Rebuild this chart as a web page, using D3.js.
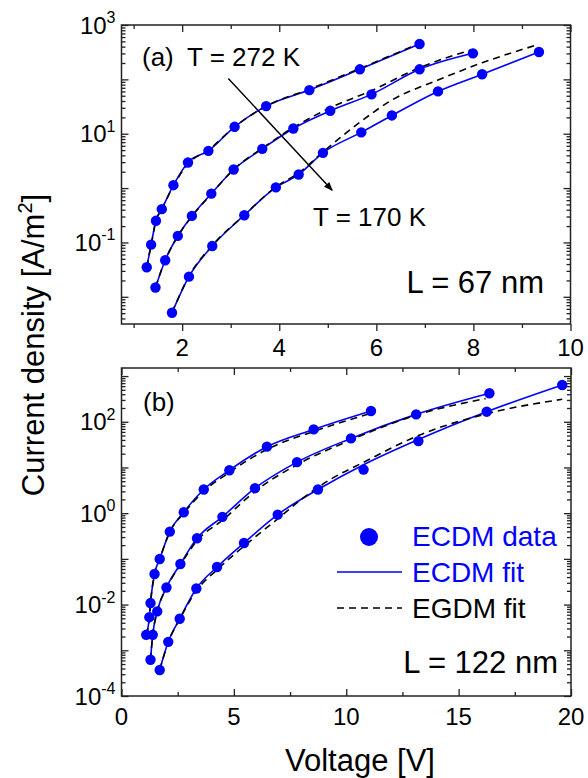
<!DOCTYPE html>
<html>
<head>
<meta charset="utf-8">
<title>ECDM / EGDM current density</title>
<script src="https://cdn.jsdelivr.net/npm/d3@7"></script>
<style>
    html, body { margin: 0; padding: 0; background: #fff; }
    svg { display: block; font-family: "Liberation Sans", Arial, sans-serif; }
    .frame { fill: none; stroke: #222; stroke-width: 1.5px; }
    .axis path { display: none; }
    .axis line { stroke: #222; stroke-width: 1.3px; }
    .ecdm { fill: none; stroke: #0000ff; stroke-width: 1.6px; }
    .egdm { fill: none; stroke: #000; stroke-width: 1.6px; stroke-dasharray: 7,5; }
    .dot { fill: #0000ff; }
</style>
</head>
<body>
<svg width="588" height="778"></svg>
<script>

// ---- panel (a) : L = 67 nm ----
var aHotV  = [1.27, 1.36, 1.46, 1.58, 1.82, 2.12, 2.54, 3.08, 3.73, 4.62, 5.66, 6.89];
var aHotJ  = [0.035, 0.091, 0.25, 0.41, 1.13, 2.96, 4.84, 13.4, 32.2, 63.5, 153, 447];
var aMidV  = [1.45, 1.65, 1.91, 2.20, 2.60, 3.06, 3.65, 4.29, 5.05, 5.90, 6.89, 7.99];
var aMidJ  = [0.0148, 0.047, 0.132, 0.308, 0.79, 2.2, 5.27, 12.5, 26.4, 52.9, 153, 301];
var aColdV = [1.79, 2.14, 2.62, 3.28, 3.93, 4.40, 4.90, 5.69, 6.32, 7.27, 8.18, 9.35];
var aColdJ = [0.0051, 0.0235, 0.086, 0.317, 1.03, 1.78, 4.45, 10.6, 21.7, 60, 124, 318];

// EGDM fit (dashed) for panel (a)
var aHotEgV  = [1.27, 1.36, 1.46, 1.58, 1.82, 2.12, 2.54, 3.08, 3.73, 4.62, 5.66, 6.89];
var aHotEgJ  = [0.035, 0.09, 0.25, 0.41, 1.1, 2.8, 5.0, 13.4, 32, 66, 158, 460];
var aMidEgV  = [1.45, 1.65, 1.91, 2.20, 2.60, 3.06, 3.65, 4.29, 5.05, 5.90, 6.89, 8.0];
var aMidEgJ  = [0.0148, 0.047, 0.13, 0.3, 0.78, 2.2, 5.4, 13, 30, 62, 164, 357];
var aColdEgV = [1.79, 2.14, 2.62, 3.28, 3.93, 4.40, 4.90, 5.69, 6.32, 7.27, 8.18, 9.35];
var aColdEgJ = [0.0051, 0.024, 0.088, 0.32, 1.05, 1.9, 4.6, 17.0, 41.6, 97, 202, 441];

// ---- panel (b) : L = 122 nm ----
var bHotV  = [1.10, 1.24, 1.29, 1.47, 1.70, 2.15, 2.77, 3.66, 4.80, 6.47, 8.55, 11.1];
var bHotJ  = [0.00218, 0.0053, 0.0108, 0.0467, 0.0995, 0.394, 1.05, 3.3, 8.7, 28.5, 68, 172];
var bMidV  = [1.29, 1.39, 1.59, 2.00, 2.62, 3.36, 4.49, 5.94, 7.81, 10.21, 13.11, 16.37];
var bMidJ  = [0.00062, 0.00218, 0.0071, 0.0237, 0.0773, 0.282, 0.83, 3.52, 13.1, 43.2, 145, 420];
var bColdV = [1.70, 2.08, 2.59, 3.33, 4.25, 5.45, 6.95, 8.74, 10.77, 13.21, 16.25, 19.61];
var bColdJ = [0.00037, 0.00153, 0.0049, 0.0225, 0.0664, 0.223, 0.93, 3.3, 9.0, 37.7, 166, 638];
var bColdFitJ = [0.00037, 0.00153, 0.0049, 0.0225, 0.0664, 0.223, 0.93, 3.3, 11.5, 41, 166, 638];

// EGDM fit (dashed) for panel (b)
var bHotEgV  = [1.10, 1.24, 1.29, 1.47, 1.70, 2.15, 2.77, 3.66, 4.80, 6.47, 8.55, 11.1];
var bHotEgJ  = [0.0022, 0.0053, 0.0108, 0.047, 0.1, 0.39, 1.0, 3.0, 7.8, 24.8, 61.5, 153];
var bMidEgV  = [1.29, 1.39, 1.59, 2.00, 2.62, 3.36, 4.49, 5.94, 7.81, 10.21, 13.11, 16.2];
var bMidEgJ  = [0.00062, 0.0022, 0.0071, 0.023, 0.074, 0.25, 0.7, 3.0, 11.5, 40, 140, 321];
var bColdEgV = [1.70, 2.08, 2.59, 3.33, 4.25, 5.45, 6.95, 8.0, 9.3, 10.77, 13.21, 16.25, 19.61];
var bColdEgJ = [0.00037, 0.0015, 0.0048, 0.02, 0.058, 0.19, 0.75, 2.0, 5.5, 13, 50, 150, 310];

// ticks
var aXMajor = [2, 4, 6, 8, 10];
var aXMinor = [1, 3, 5, 7, 9];
var aYLabels = [3, 1, -1];
var bXMajor = [0, 5, 10, 15, 20];
var bXMinor = [2.5, 7.5, 12.5, 17.5];
var bYLabels = [2, 0, -2, -4];

var arrowFrom = [2.95, 104];
var arrowTo = [5.09, 0.91];

var svg = d3.select("svg");

svg.append("defs").append("marker")
    .attr("id", "head")
    .attr("viewBox", "0 0 10 10")
    .attr("refX", 9).attr("refY", 5)
    .attr("markerUnits", "userSpaceOnUse")
    .attr("markerWidth", 11).attr("markerHeight", 9)
    .attr("orient", "auto")
    .append("path").attr("d", "M0,1 L10,5 L0,9 Z").attr("fill", "#000");

function zip(v, j) {
    return v.map(function(d, i) { return [d, j[i]]; });
}

function logMinors(lo, hi) {
    var out = [];
    for (var e = Math.floor(Math.log10(lo)); e <= Math.ceil(Math.log10(hi)); e++) {
        for (var k = 1; k <= 9; k++) {
            var v = k * Math.pow(10, e);
            if (v >= lo && v <= hi) out.push(v);
        }
    }
    return out;
}

function drawPanel(p) {
    var x = d3.scaleLinear().domain(p.xDomain).range([p.left, p.right]);
    var y = d3.scaleLog().domain(p.yDomain).range([p.bottom, p.top]);
    var g = svg.append("g");

    var line = d3.line()
        .x(function(d) { return x(d[0]); })
        .y(function(d) { return y(d[1]); })
        .curve(d3.curveMonotoneX);

    // y ticks (all inside)
    var yAll = logMinors(p.yDomain[0], p.yDomain[1]);
    var yMajor = yAll.filter(function(v) { return Math.abs(Math.log10(v) - Math.round(Math.log10(v))) < 1e-9; });
    var yMinor = yAll.filter(function(v) { return yMajor.indexOf(v) < 0; });

    g.append("g").attr("class", "axis").attr("transform", "translate(" + p.left + ",0)")
        .call(d3.axisLeft(y).tickValues(yMajor).tickSize(-7).tickFormat(""));
    g.append("g").attr("class", "axis").attr("transform", "translate(" + p.left + ",0)")
        .call(d3.axisLeft(y).tickValues(yMinor).tickSize(-4).tickFormat(""));
    g.append("g").attr("class", "axis").attr("transform", "translate(" + p.right + ",0)")
        .call(d3.axisRight(y).tickValues(yMajor).tickSize(-7).tickFormat(""));
    g.append("g").attr("class", "axis").attr("transform", "translate(" + p.right + ",0)")
        .call(d3.axisRight(y).tickValues(yMinor).tickSize(-4).tickFormat(""));

    // x ticks
    var bs = p.xOut ? 7 : -7, bm = p.xOut ? 4 : -4;
    g.append("g").attr("class", "axis").attr("transform", "translate(0," + p.bottom + ")")
        .call(d3.axisBottom(x).tickValues(p.xMajor).tickSize(bs).tickFormat(""));
    g.append("g").attr("class", "axis").attr("transform", "translate(0," + p.bottom + ")")
        .call(d3.axisBottom(x).tickValues(p.xMinor).tickSize(bm).tickFormat(""));
    g.append("g").attr("class", "axis").attr("transform", "translate(0," + p.top + ")")
        .call(d3.axisTop(x).tickValues(p.xMajor).tickSize(-7).tickFormat(""));
    g.append("g").attr("class", "axis").attr("transform", "translate(0," + p.top + ")")
        .call(d3.axisTop(x).tickValues(p.xMinor).tickSize(-4).tickFormat(""));

    g.append("rect").attr("class", "frame")
        .attr("x", p.left).attr("y", p.top)
        .attr("width", p.right - p.left).attr("height", p.bottom - p.top);

    // x labels
    g.selectAll(".xl").data(p.xMajor).enter().append("text")
        .attr("x", function(d) { return x(d); })
        .attr("y", p.bottom + p.xLabelDy)
        .attr("text-anchor", "middle")
        .attr("font-size", 24)
        .text(function(d) { return d; });

    // y labels 10^n
    var yl = g.selectAll(".yl").data(p.yLabels).enter().append("text")
        .attr("x", p.left - 6)
        .attr("y", function(d) { return y(Math.pow(10, d)) + 8.5; })
        .attr("text-anchor", "end")
        .attr("font-size", 24);
    yl.append("tspan").text("10");
    yl.append("tspan").attr("dy", -10.5).attr("font-size", 16).text(function(d) { return d; });

    // fits then data
    p.fits.forEach(function(s) {
        g.append("path").attr("class", "ecdm").attr("d", line(s));
    });
    p.egdm.forEach(function(s) {
        g.append("path").attr("class", "egdm").attr("d", line(s));
    });
    p.data.forEach(function(s) {
        g.selectAll(null).data(s).enter().append("circle")
            .attr("class", "dot")
            .attr("cx", function(d) { return x(d[0]); })
            .attr("cy", function(d) { return y(d[1]); })
            .attr("r", 5.2);
    });

    return { x: x, y: y, g: g };
}

var pa = drawPanel({
    left: 121.5, right: 570.5, top: 25, bottom: 324,
    xDomain: [0.75, 10], yDomain: [0.00316, 1000],
    xMajor: aXMajor, xMinor: aXMinor, xOut: true, xLabelDy: 32,
    yLabels: aYLabels,
    data: [zip(aHotV, aHotJ), zip(aMidV, aMidJ), zip(aColdV, aColdJ)],
    fits: [zip(aHotV, aHotJ), zip(aMidV, aMidJ), zip(aColdV, aColdJ)],
    egdm: [zip(aHotEgV, aHotEgJ), zip(aMidEgV, aMidEgJ), zip(aColdEgV, aColdEgJ)]
});

var pb = drawPanel({
    left: 121.5, right: 571, top: 368, bottom: 696,
    xDomain: [0, 20], yDomain: [0.0001, 1500],
    xMajor: bXMajor, xMinor: bXMinor, xOut: false, xLabelDy: 29,
    yLabels: bYLabels,
    data: [zip(bHotV, bHotJ), zip(bMidV, bMidJ), zip(bColdV, bColdJ)],
    fits: [zip(bHotV, bHotJ), zip(bMidV, bMidJ), zip(bColdV, bColdFitJ)],
    egdm: [zip(bHotEgV, bHotEgJ), zip(bMidEgV, bMidEgJ), zip(bColdEgV, bColdEgJ)]
});

// temperature arrow in (a)
pa.g.append("line")
    .attr("x1", pa.x(arrowFrom[0])).attr("y1", pa.y(arrowFrom[1]))
    .attr("x2", pa.x(arrowTo[0])).attr("y2", pa.y(arrowTo[1]))
    .attr("stroke", "#000").attr("stroke-width", 1.4)
    .attr("marker-end", "url(#head)");

// annotations
svg.append("text").attr("x", 142).attr("y", 66).attr("font-size", 26).text("(a)");
svg.append("text").attr("x", 187).attr("y", 66).attr("font-size", 26).text("T = 272 K");
svg.append("text").attr("x", 313).attr("y", 226).attr("font-size", 26).text("T = 170 K");
svg.append("text").attr("x", 544).attr("y", 293).attr("font-size", 31).attr("text-anchor", "end").text("L = 67 nm");
svg.append("text").attr("x", 143).attr("y", 411).attr("font-size", 26).text("(b)");
svg.append("text").attr("x", 558).attr("y", 673).attr("font-size", 31).attr("text-anchor", "end").text("L = 122 nm");

// legend
var lg = svg.append("g");
lg.append("circle").attr("cx", 369).attr("cy", 537).attr("r", 9).attr("fill", "#0000ff");
lg.append("text").attr("x", 412).attr("y", 546).attr("font-size", 28).attr("fill", "#0000ff").text("ECDM data");
lg.append("line").attr("x1", 337).attr("x2", 402).attr("y1", 572).attr("y2", 572).attr("class", "ecdm");
lg.append("text").attr("x", 412).attr("y", 582).attr("font-size", 28).attr("fill", "#0000ff").text("ECDM fit");
lg.append("line").attr("x1", 337).attr("x2", 402).attr("y1", 608).attr("y2", 608).attr("class", "egdm");
lg.append("text").attr("x", 412).attr("y", 618).attr("font-size", 28).attr("fill", "#000").text("EGDM fit");

// axis titles
svg.append("text")
    .attr("transform", "translate(44,345) rotate(-90)")
    .attr("text-anchor", "middle")
    .attr("font-size", 31)
    .call(function(t) {
        t.append("tspan").text("Current density [A/m");
        t.append("tspan").attr("dy", -12).attr("font-size", 20).text("2");
        t.append("tspan").attr("dy", 12).text("]");
    });

svg.append("text")
    .attr("x", 360).attr("y", 771)
    .attr("text-anchor", "middle")
    .attr("font-size", 31)
    .text("Voltage [V]");

</script>
</body>
</html>
